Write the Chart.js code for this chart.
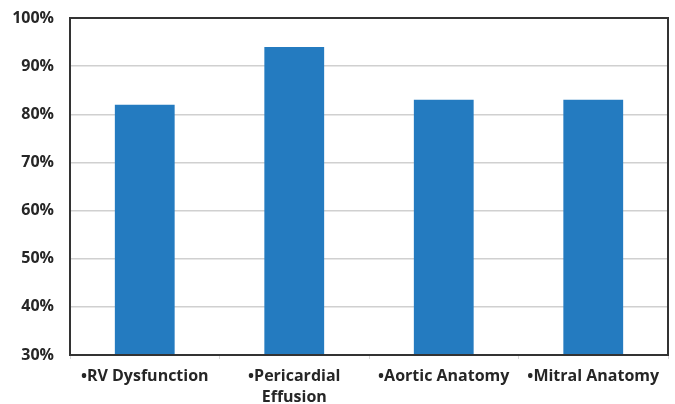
<!DOCTYPE html>
<html>
<head>
<meta charset="utf-8">
<script src="https://cdn.jsdelivr.net/npm/chart.js@4/dist/chart.umd.min.js"></script>
<style>
  html, body { margin: 0; padding: 0; background: #ffffff; }
  #wrap { width: 675px; height: 404px; position: relative; }
</style>
</head>
<body>
<div id="wrap"><canvas id="c"></canvas></div>
<script>
// Diagnostic agreement by assessment category (percent)
const categories = [
  ["\u2022RV Dysfunction"],
  ["\u2022Pericardial", "Effusion"],
  ["\u2022Aortic Anatomy"],
  ["\u2022Mitral Anatomy"]
];
const agreement = [82, 94, 83, 83];
const yMin = 30;
const yMax = 100;
const yStep = 10;

// Draws the dark frame around the plotting area
const frame = {
  id: 'frame',
  afterDatasetsDraw(chart) {
    const { ctx, chartArea: a } = chart;
    ctx.save();
    ctx.strokeStyle = '#333333';
    ctx.lineWidth = 2;
    ctx.strokeRect(a.left, a.top, a.right - a.left, a.bottom - a.top);
    ctx.restore();
  }
};

new Chart(document.getElementById('c'), {
  type: 'bar',
  data: {
    labels: categories,
    datasets: [{
      data: agreement,
      backgroundColor: '#247bc0',
      borderWidth: 0,
      categoryPercentage: 1.0,
      barPercentage: 0.4
    }]
  },
  options: {
    responsive: true,
    maintainAspectRatio: false,
    animation: false,
    layout: { padding: { top: 18, right: 7, left: 0, bottom: 0 } },
    plugins: {
      legend: { display: false },
      tooltip: { enabled: false }
    },
    scales: {
      x: {
        grid: {
          display: true,
          drawOnChartArea: false,
          drawTicks: true,
          tickLength: 4,
          color: '#d8d8d8',
          offset: true
        },
        border: { display: false },
        ticks: {
          color: '#262626',
          padding: 7,
          maxRotation: 0,
          autoSkip: false,
          font: { family: '"Open Sans", sans-serif', size: 16, weight: 'bold', lineHeight: 1.3 }
        },
        afterFit(scale) {
          scale.height = 49;
          scale.paddingLeft = 0;
          scale.paddingRight = 0;
        }
      },
      y: {
        min: yMin,
        max: yMax,
        grid: {
          color: '#d0d0d0',
          lineWidth: 1.5,
          drawTicks: false
        },
        border: { display: false },
        ticks: {
          stepSize: yStep,
          color: '#262626',
          padding: 16,
          font: { family: '"Open Sans", sans-serif', size: 16, weight: 'bold' },
          callback: (v) => v + '%'
        },
        afterFit(scale) {
          scale.width = 70;
          scale.paddingTop = 0;
          scale.paddingBottom = 0;
        }
      }
    }
  },
  plugins: [frame]
});
</script>
</body>
</html>
